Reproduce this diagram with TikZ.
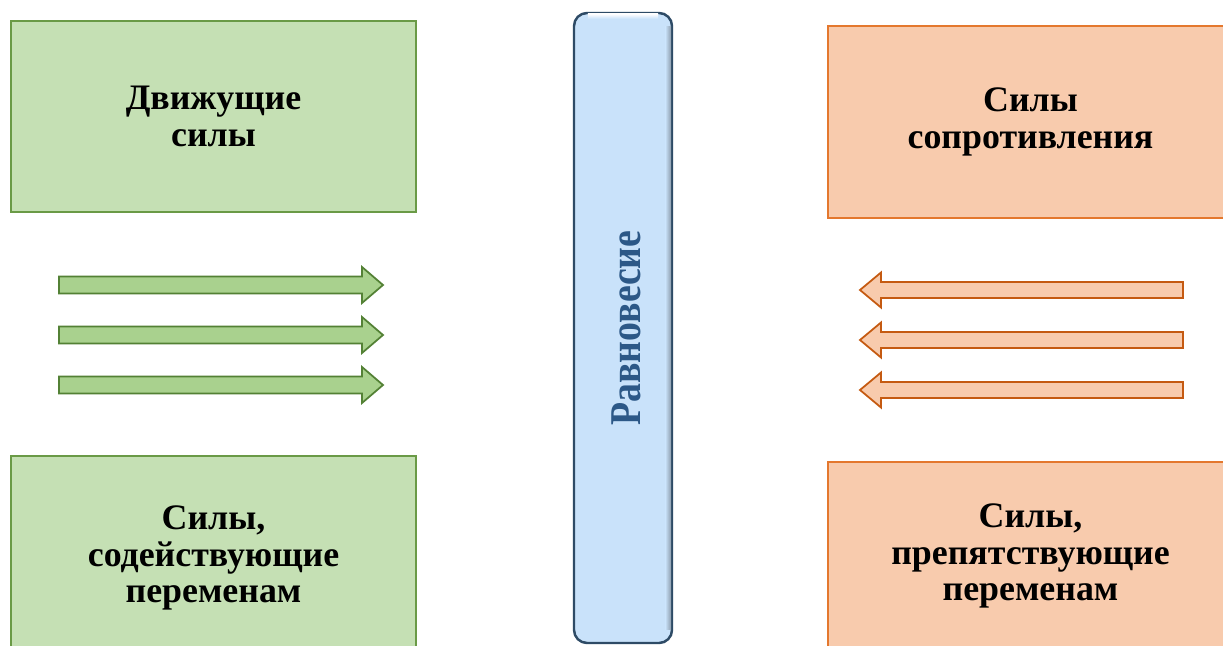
\documentclass[tikz,border=0pt]{standalone}
\usepackage{fontspec}
\setmainfont{Liberation Serif}
\usetikzlibrary{positioning}
\definecolor{gfill}{HTML}{C5E0B4}
\definecolor{gline}{HTML}{6A9A46}
\definecolor{garfill}{HTML}{A9D18E}
\definecolor{garline}{HTML}{538135}
\definecolor{ofill}{HTML}{F8CBAD}
\definecolor{oline}{HTML}{E4782E}
\definecolor{oarline}{HTML}{C55A11}
\definecolor{pfill}{HTML}{C9E2FA}
\definecolor{pline}{HTML}{2E4B66}
\definecolor{ptext}{HTML}{2C5887}
\begin{document}
\begin{tikzpicture}
            \tikzstyle{box}=[rectangle,line width=1pt,minimum width=8.1cm,align=center,inner sep=0pt,font=\bfseries\fontsize{20.4}{21}\selectfont]
            \tikzstyle{gbox}=[box,draw=gline,fill=gfill]
            \tikzstyle{obox}=[box,draw=oline,fill=ofill]
            \tikzstyle{garrow}=[draw=garline,fill=garfill,line width=1pt,line join=miter]
            \tikzstyle{oarrow}=[draw=oarline,fill=ofill,line width=1pt,line join=miter]
            \tikzstyle{pillar}=[rectangle,rounded corners=0.26cm,draw=pline,fill=pfill,line width=1.4pt,minimum width=1.96cm,minimum height=12.6cm]
            \fill[white] (0,0) rectangle (24.46,12.9);
            \clip (0,0) rectangle (24.46,12.9);
            \node[gbox,minimum height=3.82cm] (dv) at (4.27,10.57) {Движущие\\силы};
            \node[gbox,minimum height=4.08cm] (sod) at (4.27,1.74) {Силы,\\содействующие\\переменам};
            \node[obox,minimum height=3.84cm] (sop) at (20.61,10.46) {Силы\\сопротивления};
            \node[obox,minimum height=3.76cm] (prep) at (20.61,1.78) {Силы,\\препятствующие\\переменам};
            \node[pillar] (rav) at (12.46,6.34) {};
            \shade[left color=pfill,right color=pline!55] ([xshift=-0.16cm,yshift=-0.3cm]rav.north east) rectangle ([xshift=-1.2pt,yshift=0.3cm]rav.south east);
            \shade[top color=white,bottom color=pfill] ([xshift=0.3cm,yshift=-1.2pt]rav.north west) rectangle ([xshift=-0.3cm,yshift=-0.14cm]rav.north east);
            \node[rotate=90,text=ptext,font=\bfseries\fontsize{25}{28}\selectfont] (ravt) at ([xshift=0.06cm]rav.center) {\scalebox{0.86}[1]{Равновесие}};
            \draw[garrow] (1.18,7.37) -- (7.24,7.37) -- (7.24,7.56) -- (7.66,7.2) -- (7.24,6.84) -- (7.24,7.03) -- (1.18,7.03) -- cycle;
            \draw[garrow] (1.18,6.37) -- (7.24,6.37) -- (7.24,6.56) -- (7.66,6.2) -- (7.24,5.84) -- (7.24,6.03) -- (1.18,6.03) -- cycle;
            \draw[garrow] (1.18,5.37) -- (7.24,5.37) -- (7.24,5.56) -- (7.66,5.2) -- (7.24,4.84) -- (7.24,5.03) -- (1.18,5.03) -- cycle;
            \draw[oarrow] (23.66,7.26) -- (17.62,7.26) -- (17.62,7.45) -- (17.2,7.1) -- (17.62,6.75) -- (17.62,6.94) -- (23.66,6.94) -- cycle;
            \draw[oarrow] (23.66,6.26) -- (17.62,6.26) -- (17.62,6.45) -- (17.2,6.1) -- (17.62,5.75) -- (17.62,5.94) -- (23.66,5.94) -- cycle;
            \draw[oarrow] (23.66,5.26) -- (17.62,5.26) -- (17.62,5.45) -- (17.2,5.1) -- (17.62,4.75) -- (17.62,4.94) -- (23.66,4.94) -- cycle;
        \end{tikzpicture}
\end{document}
